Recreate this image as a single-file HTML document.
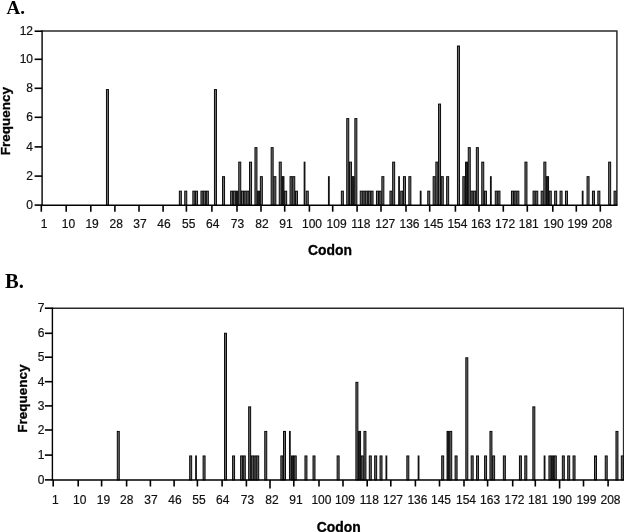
<!DOCTYPE html>
<html><head><meta charset="utf-8"><title>Codon frequency</title>
<style>
html,body{margin:0;padding:0;background:#fff;}
svg{display:block;}
.t{font-family:"Liberation Sans",Arial,sans-serif;font-size:12px;fill:#111;stroke:#111;stroke-width:0.2px;}
.b{font-family:"Liberation Sans",Arial,sans-serif;font-size:13.5px;font-weight:bold;fill:#000;stroke:#000;stroke-width:0.3px;}
.c{font-size:13.9px;}
.L{font-family:"Liberation Serif","Times New Roman",serif;font-weight:bold;fill:#000;}
</style></head><body>
<svg width="624" height="532" viewBox="0 0 624 532">
<rect width="624" height="532" fill="#fff"/>
<g>
<path d="M42.1 31.0 H616.9 V205.2" fill="none" stroke="#2a2a2a" stroke-width="1.5"/>
<rect x="106.45" y="89.57" width="2.00" height="115.63" fill="#727272" stroke="#0a0a0a" stroke-width="1.0"/>
<rect x="179.35" y="191.18" width="2.00" height="14.02" fill="#727272" stroke="#0a0a0a" stroke-width="1.0"/>
<rect x="184.75" y="191.18" width="2.00" height="14.02" fill="#727272" stroke="#0a0a0a" stroke-width="1.0"/>
<rect x="192.85" y="191.18" width="2.00" height="14.02" fill="#727272" stroke="#0a0a0a" stroke-width="1.0"/>
<rect x="195.55" y="191.18" width="2.00" height="14.02" fill="#727272" stroke="#0a0a0a" stroke-width="1.0"/>
<rect x="200.95" y="191.18" width="2.00" height="14.02" fill="#727272" stroke="#0a0a0a" stroke-width="1.0"/>
<rect x="203.65" y="191.18" width="2.00" height="14.02" fill="#727272" stroke="#0a0a0a" stroke-width="1.0"/>
<rect x="206.35" y="191.18" width="2.00" height="14.02" fill="#727272" stroke="#0a0a0a" stroke-width="1.0"/>
<rect x="214.45" y="89.57" width="2.00" height="115.63" fill="#727272" stroke="#0a0a0a" stroke-width="1.0"/>
<rect x="222.55" y="176.67" width="2.00" height="28.53" fill="#727272" stroke="#0a0a0a" stroke-width="1.0"/>
<rect x="230.65" y="191.18" width="2.00" height="14.02" fill="#727272" stroke="#0a0a0a" stroke-width="1.0"/>
<rect x="233.35" y="191.18" width="2.00" height="14.02" fill="#727272" stroke="#0a0a0a" stroke-width="1.0"/>
<rect x="236.05" y="191.18" width="2.00" height="14.02" fill="#222" stroke="#0a0a0a" stroke-width="1.0"/>
<rect x="238.75" y="162.15" width="2.00" height="43.05" fill="#727272" stroke="#0a0a0a" stroke-width="1.0"/>
<rect x="241.45" y="191.18" width="2.00" height="14.02" fill="#727272" stroke="#0a0a0a" stroke-width="1.0"/>
<rect x="244.15" y="191.18" width="2.00" height="14.02" fill="#727272" stroke="#0a0a0a" stroke-width="1.0"/>
<rect x="246.85" y="191.18" width="2.00" height="14.02" fill="#727272" stroke="#0a0a0a" stroke-width="1.0"/>
<rect x="249.55" y="162.15" width="2.00" height="43.05" fill="#727272" stroke="#0a0a0a" stroke-width="1.0"/>
<rect x="254.95" y="147.63" width="2.00" height="57.57" fill="#727272" stroke="#0a0a0a" stroke-width="1.0"/>
<rect x="257.65" y="191.18" width="2.00" height="14.02" fill="#222" stroke="#0a0a0a" stroke-width="1.0"/>
<rect x="260.35" y="176.67" width="2.00" height="28.53" fill="#727272" stroke="#0a0a0a" stroke-width="1.0"/>
<rect x="271.15" y="147.63" width="2.00" height="57.57" fill="#727272" stroke="#0a0a0a" stroke-width="1.0"/>
<rect x="273.85" y="176.67" width="2.00" height="28.53" fill="#727272" stroke="#0a0a0a" stroke-width="1.0"/>
<rect x="279.25" y="162.15" width="2.00" height="43.05" fill="#727272" stroke="#0a0a0a" stroke-width="1.0"/>
<rect x="281.95" y="176.67" width="2.00" height="28.53" fill="#222" stroke="#0a0a0a" stroke-width="1.0"/>
<rect x="284.65" y="191.18" width="2.00" height="14.02" fill="#727272" stroke="#0a0a0a" stroke-width="1.0"/>
<rect x="290.05" y="176.67" width="2.00" height="28.53" fill="#727272" stroke="#0a0a0a" stroke-width="1.0"/>
<rect x="292.75" y="176.67" width="2.00" height="28.53" fill="#727272" stroke="#0a0a0a" stroke-width="1.0"/>
<rect x="295.45" y="191.18" width="2.00" height="14.02" fill="#727272" stroke="#0a0a0a" stroke-width="1.0"/>
<rect x="303.65" y="161.65" width="1.8" height="43.55" fill="#111"/>
<rect x="306.25" y="191.18" width="2.00" height="14.02" fill="#727272" stroke="#0a0a0a" stroke-width="1.0"/>
<rect x="327.95" y="176.17" width="1.8" height="29.03" fill="#111"/>
<rect x="341.35" y="191.18" width="2.00" height="14.02" fill="#727272" stroke="#0a0a0a" stroke-width="1.0"/>
<rect x="346.75" y="118.60" width="2.00" height="86.60" fill="#727272" stroke="#0a0a0a" stroke-width="1.0"/>
<rect x="349.45" y="162.15" width="2.00" height="43.05" fill="#727272" stroke="#0a0a0a" stroke-width="1.0"/>
<rect x="352.15" y="176.67" width="2.00" height="28.53" fill="#222" stroke="#0a0a0a" stroke-width="1.0"/>
<rect x="354.85" y="118.60" width="2.00" height="86.60" fill="#727272" stroke="#0a0a0a" stroke-width="1.0"/>
<rect x="360.25" y="191.18" width="2.00" height="14.02" fill="#727272" stroke="#0a0a0a" stroke-width="1.0"/>
<rect x="362.95" y="191.18" width="2.00" height="14.02" fill="#727272" stroke="#0a0a0a" stroke-width="1.0"/>
<rect x="365.65" y="191.18" width="2.00" height="14.02" fill="#727272" stroke="#0a0a0a" stroke-width="1.0"/>
<rect x="368.35" y="191.18" width="2.00" height="14.02" fill="#727272" stroke="#0a0a0a" stroke-width="1.0"/>
<rect x="371.05" y="191.18" width="2.00" height="14.02" fill="#727272" stroke="#0a0a0a" stroke-width="1.0"/>
<rect x="376.45" y="191.18" width="2.00" height="14.02" fill="#727272" stroke="#0a0a0a" stroke-width="1.0"/>
<rect x="379.15" y="191.18" width="2.00" height="14.02" fill="#727272" stroke="#0a0a0a" stroke-width="1.0"/>
<rect x="381.85" y="176.67" width="2.00" height="28.53" fill="#727272" stroke="#0a0a0a" stroke-width="1.0"/>
<rect x="389.95" y="191.18" width="2.00" height="14.02" fill="#727272" stroke="#0a0a0a" stroke-width="1.0"/>
<rect x="392.65" y="162.15" width="2.00" height="43.05" fill="#727272" stroke="#0a0a0a" stroke-width="1.0"/>
<rect x="398.15" y="176.17" width="1.8" height="29.03" fill="#111"/>
<rect x="400.75" y="191.18" width="2.00" height="14.02" fill="#727272" stroke="#0a0a0a" stroke-width="1.0"/>
<rect x="403.45" y="176.67" width="2.00" height="28.53" fill="#727272" stroke="#0a0a0a" stroke-width="1.0"/>
<rect x="408.85" y="176.67" width="2.00" height="28.53" fill="#727272" stroke="#0a0a0a" stroke-width="1.0"/>
<rect x="419.75" y="190.68" width="1.8" height="14.52" fill="#111"/>
<rect x="427.75" y="191.18" width="2.00" height="14.02" fill="#727272" stroke="#0a0a0a" stroke-width="1.0"/>
<rect x="433.15" y="176.67" width="2.00" height="28.53" fill="#727272" stroke="#0a0a0a" stroke-width="1.0"/>
<rect x="435.85" y="162.15" width="2.00" height="43.05" fill="#727272" stroke="#0a0a0a" stroke-width="1.0"/>
<rect x="438.55" y="104.08" width="2.00" height="101.12" fill="#727272" stroke="#0a0a0a" stroke-width="1.0"/>
<rect x="441.25" y="176.67" width="2.00" height="28.53" fill="#727272" stroke="#0a0a0a" stroke-width="1.0"/>
<rect x="446.65" y="176.67" width="2.00" height="28.53" fill="#727272" stroke="#0a0a0a" stroke-width="1.0"/>
<rect x="457.45" y="46.02" width="2.00" height="159.18" fill="#727272" stroke="#0a0a0a" stroke-width="1.0"/>
<rect x="462.85" y="176.67" width="2.00" height="28.53" fill="#727272" stroke="#0a0a0a" stroke-width="1.0"/>
<rect x="465.55" y="162.15" width="2.00" height="43.05" fill="#222" stroke="#0a0a0a" stroke-width="1.0"/>
<rect x="468.25" y="147.63" width="2.00" height="57.57" fill="#727272" stroke="#0a0a0a" stroke-width="1.0"/>
<rect x="470.95" y="191.18" width="2.00" height="14.02" fill="#727272" stroke="#0a0a0a" stroke-width="1.0"/>
<rect x="473.65" y="191.18" width="2.00" height="14.02" fill="#727272" stroke="#0a0a0a" stroke-width="1.0"/>
<rect x="476.35" y="147.63" width="2.00" height="57.57" fill="#727272" stroke="#0a0a0a" stroke-width="1.0"/>
<rect x="481.75" y="162.15" width="2.00" height="43.05" fill="#727272" stroke="#0a0a0a" stroke-width="1.0"/>
<rect x="484.45" y="191.18" width="2.00" height="14.02" fill="#727272" stroke="#0a0a0a" stroke-width="1.0"/>
<rect x="489.95" y="176.17" width="1.8" height="29.03" fill="#111"/>
<rect x="495.25" y="191.18" width="2.00" height="14.02" fill="#727272" stroke="#0a0a0a" stroke-width="1.0"/>
<rect x="497.95" y="191.18" width="2.00" height="14.02" fill="#727272" stroke="#0a0a0a" stroke-width="1.0"/>
<rect x="511.45" y="191.18" width="2.00" height="14.02" fill="#727272" stroke="#0a0a0a" stroke-width="1.0"/>
<rect x="514.15" y="191.18" width="2.00" height="14.02" fill="#727272" stroke="#0a0a0a" stroke-width="1.0"/>
<rect x="516.85" y="191.18" width="2.00" height="14.02" fill="#727272" stroke="#0a0a0a" stroke-width="1.0"/>
<rect x="524.95" y="162.15" width="2.00" height="43.05" fill="#727272" stroke="#0a0a0a" stroke-width="1.0"/>
<rect x="533.05" y="191.18" width="2.00" height="14.02" fill="#727272" stroke="#0a0a0a" stroke-width="1.0"/>
<rect x="535.75" y="191.18" width="2.00" height="14.02" fill="#727272" stroke="#0a0a0a" stroke-width="1.0"/>
<rect x="541.15" y="191.18" width="2.00" height="14.02" fill="#727272" stroke="#0a0a0a" stroke-width="1.0"/>
<rect x="543.85" y="162.15" width="2.00" height="43.05" fill="#727272" stroke="#0a0a0a" stroke-width="1.0"/>
<rect x="546.55" y="176.67" width="2.00" height="28.53" fill="#222" stroke="#0a0a0a" stroke-width="1.0"/>
<rect x="549.25" y="191.18" width="2.00" height="14.02" fill="#727272" stroke="#0a0a0a" stroke-width="1.0"/>
<rect x="554.65" y="191.18" width="2.00" height="14.02" fill="#727272" stroke="#0a0a0a" stroke-width="1.0"/>
<rect x="560.05" y="191.18" width="2.00" height="14.02" fill="#727272" stroke="#0a0a0a" stroke-width="1.0"/>
<rect x="565.45" y="191.18" width="2.00" height="14.02" fill="#727272" stroke="#0a0a0a" stroke-width="1.0"/>
<rect x="581.75" y="190.68" width="1.8" height="14.52" fill="#111"/>
<rect x="587.05" y="176.67" width="2.00" height="28.53" fill="#727272" stroke="#0a0a0a" stroke-width="1.0"/>
<rect x="592.45" y="191.18" width="2.00" height="14.02" fill="#727272" stroke="#0a0a0a" stroke-width="1.0"/>
<rect x="597.85" y="191.18" width="2.00" height="14.02" fill="#727272" stroke="#0a0a0a" stroke-width="1.0"/>
<rect x="608.65" y="162.15" width="2.00" height="43.05" fill="#727272" stroke="#0a0a0a" stroke-width="1.0"/>
<rect x="614.05" y="191.18" width="2.00" height="14.02" fill="#727272" stroke="#0a0a0a" stroke-width="1.0"/>
<path d="M42.1 30.3 V205.2 H617.5" fill="none" stroke="#000" stroke-width="1.4"/>
<path d="M34.6 205.10 H42.1" stroke="#000" stroke-width="1.6"/>
<text x="33.0" y="209.10" text-anchor="end" class="t">0</text>
<path d="M34.6 176.10 H42.1" stroke="#000" stroke-width="1.6"/>
<text x="33.0" y="180.10" text-anchor="end" class="t">2</text>
<path d="M34.6 146.90 H42.1" stroke="#000" stroke-width="1.6"/>
<text x="33.0" y="150.90" text-anchor="end" class="t">4</text>
<path d="M34.6 117.30 H42.1" stroke="#000" stroke-width="1.6"/>
<text x="33.0" y="121.30" text-anchor="end" class="t">6</text>
<path d="M34.6 88.30 H42.1" stroke="#000" stroke-width="1.6"/>
<text x="33.0" y="92.30" text-anchor="end" class="t">8</text>
<path d="M34.6 59.30 H42.1" stroke="#000" stroke-width="1.6"/>
<text x="33.0" y="63.30" text-anchor="end" class="t">10</text>
<path d="M34.6 31.20 H42.1" stroke="#000" stroke-width="1.6"/>
<text x="33.0" y="35.20" text-anchor="end" class="t">12</text>
<path d="M41.3 205.2 V211.7" stroke="#000" stroke-width="1.6"/>
<text x="44.00" y="228.3" text-anchor="middle" class="t">1</text>
<path d="M66.2 205.2 V211.7" stroke="#000" stroke-width="1.6"/>
<text x="68.40" y="228.3" text-anchor="middle" class="t">10</text>
<path d="M90.8 205.2 V211.7" stroke="#000" stroke-width="1.6"/>
<text x="92.10" y="228.3" text-anchor="middle" class="t">19</text>
<path d="M114.9 205.2 V211.7" stroke="#000" stroke-width="1.6"/>
<text x="116.25" y="228.3" text-anchor="middle" class="t">28</text>
<path d="M139.0 205.2 V211.7" stroke="#000" stroke-width="1.6"/>
<text x="140.00" y="228.3" text-anchor="middle" class="t">37</text>
<path d="M163.1 205.2 V211.7" stroke="#000" stroke-width="1.6"/>
<text x="164.00" y="228.3" text-anchor="middle" class="t">46</text>
<path d="M186.4 205.2 V211.7" stroke="#000" stroke-width="1.6"/>
<text x="188.75" y="228.3" text-anchor="middle" class="t">55</text>
<path d="M211.9 205.2 V211.7" stroke="#000" stroke-width="1.6"/>
<text x="212.75" y="228.3" text-anchor="middle" class="t">64</text>
<path d="M237.0 205.2 V211.7" stroke="#000" stroke-width="1.6"/>
<text x="237.50" y="228.3" text-anchor="middle" class="t">73</text>
<path d="M261.0 205.2 V211.7" stroke="#000" stroke-width="1.6"/>
<text x="262.00" y="228.3" text-anchor="middle" class="t">82</text>
<path d="M284.7 205.2 V211.7" stroke="#000" stroke-width="1.6"/>
<text x="286.00" y="228.3" text-anchor="middle" class="t">91</text>
<path d="M309.4 205.2 V211.7" stroke="#000" stroke-width="1.6"/>
<text x="312.00" y="228.3" text-anchor="middle" class="t">100</text>
<path d="M332.7 205.2 V211.7" stroke="#000" stroke-width="1.6"/>
<text x="336.60" y="228.3" text-anchor="middle" class="t">109</text>
<path d="M357.1 205.2 V211.7" stroke="#000" stroke-width="1.6"/>
<text x="360.75" y="228.3" text-anchor="middle" class="t">118</text>
<path d="M381.0 205.2 V211.7" stroke="#000" stroke-width="1.6"/>
<text x="385.25" y="228.3" text-anchor="middle" class="t">127</text>
<path d="M406.0 205.2 V211.7" stroke="#000" stroke-width="1.6"/>
<text x="409.50" y="228.3" text-anchor="middle" class="t">136</text>
<path d="M429.7 205.2 V211.7" stroke="#000" stroke-width="1.6"/>
<text x="433.50" y="228.3" text-anchor="middle" class="t">145</text>
<path d="M455.4 205.2 V211.7" stroke="#000" stroke-width="1.6"/>
<text x="457.40" y="228.3" text-anchor="middle" class="t">154</text>
<path d="M479.0 205.2 V211.7" stroke="#000" stroke-width="1.6"/>
<text x="480.90" y="228.3" text-anchor="middle" class="t">163</text>
<path d="M503.3 205.2 V211.7" stroke="#000" stroke-width="1.6"/>
<text x="505.10" y="228.3" text-anchor="middle" class="t">172</text>
<path d="M527.3 205.2 V211.7" stroke="#000" stroke-width="1.6"/>
<text x="528.75" y="228.3" text-anchor="middle" class="t">181</text>
<path d="M552.8 205.2 V211.7" stroke="#000" stroke-width="1.6"/>
<text x="553.60" y="228.3" text-anchor="middle" class="t">190</text>
<path d="M576.3 205.2 V211.7" stroke="#000" stroke-width="1.6"/>
<text x="577.60" y="228.3" text-anchor="middle" class="t">199</text>
<path d="M600.3 205.2 V211.7" stroke="#000" stroke-width="1.6"/>
<text x="602.10" y="228.3" text-anchor="middle" class="t">208</text>
<text x="330.0" y="255.2" text-anchor="middle" class="b c">Codon</text>
<text transform="translate(9.5 121.2) rotate(-90)" text-anchor="middle" class="b">Frequency</text>
<text x="6.6" y="14.0" class="L" font-size="19">A.</text>
<path d="M52.4 308.2 H623.6 V480.0" fill="none" stroke="#2a2a2a" stroke-width="1.5"/>
<rect x="117.29" y="431.41" width="1.98" height="48.59" fill="#6a6a6a" stroke="#0a0a0a" stroke-width="1.0"/>
<rect x="189.68" y="455.96" width="1.98" height="24.04" fill="#6a6a6a" stroke="#0a0a0a" stroke-width="1.0"/>
<rect x="195.13" y="455.46" width="1.8" height="24.54" fill="#111"/>
<rect x="203.09" y="455.96" width="1.98" height="24.04" fill="#6a6a6a" stroke="#0a0a0a" stroke-width="1.0"/>
<rect x="224.53" y="333.24" width="1.98" height="146.76" fill="#6a6a6a" stroke="#0a0a0a" stroke-width="1.0"/>
<rect x="232.58" y="455.96" width="1.98" height="24.04" fill="#6a6a6a" stroke="#0a0a0a" stroke-width="1.0"/>
<rect x="240.62" y="455.96" width="1.98" height="24.04" fill="#6a6a6a" stroke="#0a0a0a" stroke-width="1.0"/>
<rect x="243.30" y="455.96" width="1.98" height="24.04" fill="#6a6a6a" stroke="#0a0a0a" stroke-width="1.0"/>
<rect x="248.66" y="406.87" width="1.98" height="73.13" fill="#6a6a6a" stroke="#0a0a0a" stroke-width="1.0"/>
<rect x="251.34" y="455.96" width="1.98" height="24.04" fill="#6a6a6a" stroke="#0a0a0a" stroke-width="1.0"/>
<rect x="254.03" y="455.96" width="1.98" height="24.04" fill="#6a6a6a" stroke="#0a0a0a" stroke-width="1.0"/>
<rect x="256.71" y="455.96" width="1.98" height="24.04" fill="#6a6a6a" stroke="#0a0a0a" stroke-width="1.0"/>
<rect x="264.75" y="431.41" width="1.98" height="48.59" fill="#6a6a6a" stroke="#0a0a0a" stroke-width="1.0"/>
<rect x="280.84" y="455.96" width="1.98" height="24.04" fill="#6a6a6a" stroke="#0a0a0a" stroke-width="1.0"/>
<rect x="283.52" y="431.41" width="1.98" height="48.59" fill="#6a6a6a" stroke="#0a0a0a" stroke-width="1.0"/>
<rect x="288.97" y="430.91" width="1.8" height="49.09" fill="#111"/>
<rect x="291.56" y="455.96" width="1.98" height="24.04" fill="#222" stroke="#0a0a0a" stroke-width="1.0"/>
<rect x="294.24" y="455.96" width="1.98" height="24.04" fill="#6a6a6a" stroke="#0a0a0a" stroke-width="1.0"/>
<rect x="304.96" y="455.96" width="1.98" height="24.04" fill="#6a6a6a" stroke="#0a0a0a" stroke-width="1.0"/>
<rect x="313.01" y="455.96" width="1.98" height="24.04" fill="#6a6a6a" stroke="#0a0a0a" stroke-width="1.0"/>
<rect x="337.14" y="455.96" width="1.98" height="24.04" fill="#6a6a6a" stroke="#0a0a0a" stroke-width="1.0"/>
<rect x="355.90" y="382.33" width="1.98" height="97.67" fill="#6a6a6a" stroke="#0a0a0a" stroke-width="1.0"/>
<rect x="358.58" y="431.41" width="1.98" height="48.59" fill="#222" stroke="#0a0a0a" stroke-width="1.0"/>
<rect x="361.27" y="455.96" width="1.98" height="24.04" fill="#6a6a6a" stroke="#0a0a0a" stroke-width="1.0"/>
<rect x="363.95" y="431.41" width="1.98" height="48.59" fill="#6a6a6a" stroke="#0a0a0a" stroke-width="1.0"/>
<rect x="369.31" y="455.96" width="1.98" height="24.04" fill="#6a6a6a" stroke="#0a0a0a" stroke-width="1.0"/>
<rect x="374.67" y="455.96" width="1.98" height="24.04" fill="#6a6a6a" stroke="#0a0a0a" stroke-width="1.0"/>
<rect x="380.03" y="455.96" width="1.98" height="24.04" fill="#6a6a6a" stroke="#0a0a0a" stroke-width="1.0"/>
<rect x="385.48" y="455.46" width="1.8" height="24.54" fill="#111"/>
<rect x="406.84" y="455.96" width="1.98" height="24.04" fill="#6a6a6a" stroke="#0a0a0a" stroke-width="1.0"/>
<rect x="417.66" y="455.46" width="1.8" height="24.54" fill="#111"/>
<rect x="441.70" y="455.96" width="1.98" height="24.04" fill="#6a6a6a" stroke="#0a0a0a" stroke-width="1.0"/>
<rect x="447.06" y="431.41" width="1.98" height="48.59" fill="#222" stroke="#0a0a0a" stroke-width="1.0"/>
<rect x="449.74" y="431.41" width="1.98" height="48.59" fill="#6a6a6a" stroke="#0a0a0a" stroke-width="1.0"/>
<rect x="455.10" y="455.96" width="1.98" height="24.04" fill="#6a6a6a" stroke="#0a0a0a" stroke-width="1.0"/>
<rect x="465.82" y="357.79" width="1.98" height="122.21" fill="#6a6a6a" stroke="#0a0a0a" stroke-width="1.0"/>
<rect x="471.19" y="455.96" width="1.98" height="24.04" fill="#6a6a6a" stroke="#0a0a0a" stroke-width="1.0"/>
<rect x="476.55" y="455.96" width="1.98" height="24.04" fill="#6a6a6a" stroke="#0a0a0a" stroke-width="1.0"/>
<rect x="484.59" y="455.96" width="1.98" height="24.04" fill="#6a6a6a" stroke="#0a0a0a" stroke-width="1.0"/>
<rect x="489.95" y="431.41" width="1.98" height="48.59" fill="#6a6a6a" stroke="#0a0a0a" stroke-width="1.0"/>
<rect x="492.63" y="455.96" width="1.98" height="24.04" fill="#6a6a6a" stroke="#0a0a0a" stroke-width="1.0"/>
<rect x="503.36" y="455.96" width="1.98" height="24.04" fill="#6a6a6a" stroke="#0a0a0a" stroke-width="1.0"/>
<rect x="519.44" y="455.96" width="1.98" height="24.04" fill="#6a6a6a" stroke="#0a0a0a" stroke-width="1.0"/>
<rect x="524.81" y="455.96" width="1.98" height="24.04" fill="#6a6a6a" stroke="#0a0a0a" stroke-width="1.0"/>
<rect x="532.85" y="406.87" width="1.98" height="73.13" fill="#6a6a6a" stroke="#0a0a0a" stroke-width="1.0"/>
<rect x="543.66" y="455.46" width="1.8" height="24.54" fill="#111"/>
<rect x="548.94" y="455.96" width="1.98" height="24.04" fill="#6a6a6a" stroke="#0a0a0a" stroke-width="1.0"/>
<rect x="551.62" y="455.96" width="1.98" height="24.04" fill="#222" stroke="#0a0a0a" stroke-width="1.0"/>
<rect x="554.30" y="455.96" width="1.98" height="24.04" fill="#6a6a6a" stroke="#0a0a0a" stroke-width="1.0"/>
<rect x="562.34" y="455.96" width="1.98" height="24.04" fill="#6a6a6a" stroke="#0a0a0a" stroke-width="1.0"/>
<rect x="567.70" y="455.96" width="1.98" height="24.04" fill="#6a6a6a" stroke="#0a0a0a" stroke-width="1.0"/>
<rect x="573.06" y="455.96" width="1.98" height="24.04" fill="#6a6a6a" stroke="#0a0a0a" stroke-width="1.0"/>
<rect x="594.51" y="455.96" width="1.98" height="24.04" fill="#6a6a6a" stroke="#0a0a0a" stroke-width="1.0"/>
<rect x="605.24" y="455.96" width="1.98" height="24.04" fill="#6a6a6a" stroke="#0a0a0a" stroke-width="1.0"/>
<rect x="615.96" y="431.41" width="1.98" height="48.59" fill="#6a6a6a" stroke="#0a0a0a" stroke-width="1.0"/>
<rect x="621.32" y="455.96" width="1.98" height="24.04" fill="#6a6a6a" stroke="#0a0a0a" stroke-width="1.0"/>
<path d="M52.4 307.5 V480.0 H624.2" fill="none" stroke="#000" stroke-width="1.4"/>
<path d="M44.9 479.90 H52.4" stroke="#000" stroke-width="1.6"/>
<text x="44.4" y="483.90" text-anchor="end" class="t">0</text>
<path d="M44.9 455.10 H52.4" stroke="#000" stroke-width="1.6"/>
<text x="44.4" y="459.10" text-anchor="end" class="t">1</text>
<path d="M44.9 430.00 H52.4" stroke="#000" stroke-width="1.6"/>
<text x="44.4" y="434.00" text-anchor="end" class="t">2</text>
<path d="M44.9 405.90 H52.4" stroke="#000" stroke-width="1.6"/>
<text x="44.4" y="409.90" text-anchor="end" class="t">3</text>
<path d="M44.9 381.70 H52.4" stroke="#000" stroke-width="1.6"/>
<text x="44.4" y="385.70" text-anchor="end" class="t">4</text>
<path d="M44.9 357.20 H52.4" stroke="#000" stroke-width="1.6"/>
<text x="44.4" y="361.20" text-anchor="end" class="t">5</text>
<path d="M44.9 333.30 H52.4" stroke="#000" stroke-width="1.6"/>
<text x="44.4" y="337.30" text-anchor="end" class="t">6</text>
<path d="M44.9 308.20 H52.4" stroke="#000" stroke-width="1.6"/>
<text x="44.4" y="312.20" text-anchor="end" class="t">7</text>
<path d="M53.2 480.0 V486.5" stroke="#000" stroke-width="1.6"/>
<text x="55.25" y="503.5" text-anchor="middle" class="t">1</text>
<path d="M78.2 480.0 V486.5" stroke="#000" stroke-width="1.6"/>
<text x="79.75" y="503.5" text-anchor="middle" class="t">10</text>
<path d="M101.6 480.0 V486.5" stroke="#000" stroke-width="1.6"/>
<text x="103.50" y="503.5" text-anchor="middle" class="t">19</text>
<path d="M126.6 480.0 V486.5" stroke="#000" stroke-width="1.6"/>
<text x="126.75" y="503.5" text-anchor="middle" class="t">28</text>
<path d="M150.4 480.0 V486.5" stroke="#000" stroke-width="1.6"/>
<text x="151.00" y="503.5" text-anchor="middle" class="t">37</text>
<path d="M174.1 480.0 V486.5" stroke="#000" stroke-width="1.6"/>
<text x="175.00" y="503.5" text-anchor="middle" class="t">46</text>
<path d="M197.4 480.0 V486.5" stroke="#000" stroke-width="1.6"/>
<text x="198.90" y="503.5" text-anchor="middle" class="t">55</text>
<path d="M222.1 480.0 V486.5" stroke="#000" stroke-width="1.6"/>
<text x="222.75" y="503.5" text-anchor="middle" class="t">64</text>
<path d="M246.4 480.0 V486.5" stroke="#000" stroke-width="1.6"/>
<text x="247.50" y="503.5" text-anchor="middle" class="t">73</text>
<path d="M270.0 480.0 V488.5" stroke="#000" stroke-width="1.6"/>
<text x="272.00" y="503.5" text-anchor="middle" class="t">82</text>
<path d="M293.8 480.0 V486.5" stroke="#000" stroke-width="1.6"/>
<text x="296.00" y="503.5" text-anchor="middle" class="t">91</text>
<path d="M319.0 480.0 V486.5" stroke="#000" stroke-width="1.6"/>
<text x="321.40" y="503.5" text-anchor="middle" class="t">100</text>
<path d="M343.0 480.0 V486.5" stroke="#000" stroke-width="1.6"/>
<text x="344.90" y="503.5" text-anchor="middle" class="t">109</text>
<path d="M367.2 480.0 V486.5" stroke="#000" stroke-width="1.6"/>
<text x="369.25" y="503.5" text-anchor="middle" class="t">118</text>
<path d="M390.8 480.0 V486.5" stroke="#000" stroke-width="1.6"/>
<text x="393.00" y="503.5" text-anchor="middle" class="t">127</text>
<path d="M415.4 480.0 V486.5" stroke="#000" stroke-width="1.6"/>
<text x="417.40" y="503.5" text-anchor="middle" class="t">136</text>
<path d="M439.5 480.0 V486.5" stroke="#000" stroke-width="1.6"/>
<text x="441.00" y="503.5" text-anchor="middle" class="t">145</text>
<path d="M464.0 480.0 V486.5" stroke="#000" stroke-width="1.6"/>
<text x="466.00" y="503.5" text-anchor="middle" class="t">154</text>
<path d="M487.6 480.0 V486.5" stroke="#000" stroke-width="1.6"/>
<text x="490.10" y="503.5" text-anchor="middle" class="t">163</text>
<path d="M512.7 480.0 V486.5" stroke="#000" stroke-width="1.6"/>
<text x="514.50" y="503.5" text-anchor="middle" class="t">172</text>
<path d="M535.3 480.0 V486.5" stroke="#000" stroke-width="1.6"/>
<text x="538.00" y="503.5" text-anchor="middle" class="t">181</text>
<path d="M559.6 480.0 V488.5" stroke="#000" stroke-width="1.6"/>
<text x="562.00" y="503.5" text-anchor="middle" class="t">190</text>
<path d="M583.5 480.0 V486.5" stroke="#000" stroke-width="1.6"/>
<text x="586.40" y="503.5" text-anchor="middle" class="t">199</text>
<path d="M608.1 480.0 V486.5" stroke="#000" stroke-width="1.6"/>
<text x="610.50" y="503.5" text-anchor="middle" class="t">208</text>
<text x="338.8" y="532.0" text-anchor="middle" class="b c">Codon</text>
<text transform="translate(26.9 398.5) rotate(-90)" text-anchor="middle" class="b">Frequency</text>
<text x="5.0" y="288.2" class="L" font-size="20.5">B.</text>
</g>
</svg>
</body></html>
